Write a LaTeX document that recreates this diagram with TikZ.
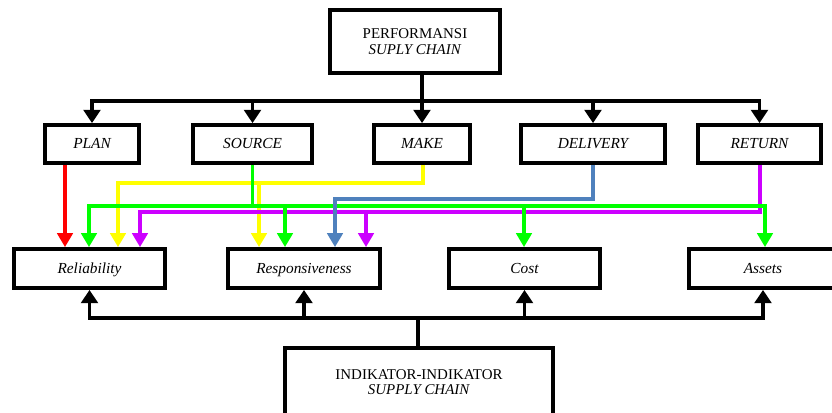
\documentclass[tikz,border=0pt]{standalone}
\usepackage{fontspec}
\setmainfont{Liberation Serif}
\usepackage{xcolor}
\usepackage{tikz}
\usetikzlibrary{
    calc,
    arrows.meta % For the filled triangle tips
}
\definecolor{pgreen}{RGB}{0,255,0}
\definecolor{pyellow}{RGB}{255,255,0}
\definecolor{pblue}{RGB}{79,129,189}
\definecolor{ppurple}{RGB}{204,0,255}
\tikzset{
    box/.style={draw, line width=2.8pt, inner sep=0pt, align=center,
        text height=7.5pt, text depth=0.5pt,
        font=\fontsize{11.5}{11.5}\selectfont\itshape},
    bigbox/.style={box, text height=, text depth=, font=\fontsize{11.2}{11.5}\selectfont},
    blk/.style={line width=2.8pt},
    blkarrow/.style={blk, -{Triangle[width=12.5pt,length=10pt]}},
    carrow/.style={line width=2.6pt, -{Triangle[width=11.5pt,length=10.5pt]}}
}

\begin{document}
\begin{tikzpicture}[x=0.75pt, y=-0.75pt]
        \useasboundingbox (0,0) rectangle (832,412);
        \clip (0,0) rectangle (832,412);
        \draw (415,41.5) node[bigbox, minimum width=127.5pt, minimum height=47.25pt](perf){PERFORMANSI\\\textit{SUPLY CHAIN}};
        \draw (92,144) node[box, minimum width=70.5pt, minimum height=28.5pt](plan){PLAN};
        \draw (252.5,144) node[box, minimum width=89.25pt, minimum height=28.5pt](source){SOURCE};
        \draw (422,144) node[box, minimum width=72pt, minimum height=28.5pt](make){MAKE};
        \draw (593,144) node[box, minimum width=108pt, minimum height=28.5pt](delivery){DELIVERY};
        \draw (759.5,144) node[box, minimum width=92.25pt, minimum height=28.5pt](return){RETURN};
        \draw (89.5,268.5) node[box, minimum width=113.25pt, minimum height=29.25pt](rel){Reliability};
        \draw (304,268.5) node[box, minimum width=114pt, minimum height=29.25pt](resp){Responsiveness};
        \draw (524.5,268.5) node[box, minimum width=113.25pt, minimum height=29.25pt](cost){Cost};
        \draw (763,268.5) node[box, minimum width=111pt, minimum height=29.25pt](assets){Assets};
        \draw (419,382) node[bigbox, minimum width=201pt, minimum height=51pt](ind){INDIKATOR-INDIKATOR\\\textit{SUPPLY CHAIN}};
        % black buses
        \coordinate (topbus) at (422,101);
        \coordinate (botbus) at (418,318);
        \draw[blk] (perf.south -| topbus) -- (topbus);
        \draw[blkarrow] (topbus) -| (plan.north);
        \draw[blkarrow] (topbus) -| (return.north);
        \foreach \n in {source,make,delivery}
            \draw[blkarrow] (\n.north |- topbus) -- (\n.north);
        \draw[blk] (ind.north -| botbus) -- (botbus);
        \draw[blkarrow] (botbus) -| (rel.south);
        \draw[blkarrow] (botbus) -| (assets.south);
        \foreach \n in {resp,cost}
            \draw[blkarrow] (\n.south |- botbus) -- (\n.south);
        % coloured links
        \coordinate (redx) at (65,0);
        \coordinate (yr) at (423,183);
        \coordinate (yl) at (118,183);
        \coordinate (ym) at (259,183);
        \coordinate (pr) at (760,212);
        \coordinate (pl) at (140,212);
        \coordinate (pm) at (366,212);
        \coordinate (gl) at (89,206);
        \coordinate (gr) at (765,206);
        \coordinate (gm) at (285,206);
        \coordinate (gc) at (524,206);
        \coordinate (bl) at (335,199);
        \draw[carrow, pyellow] (make.south -| yr) -- (yr) -- (yl) -- (rel.north -| yl);
        \draw[carrow, pyellow] (ym) -- (resp.north -| ym);
        \draw[carrow, ppurple] (return.south -| pr) -- (pr) -- (pl) -- (rel.north -| pl);
        \draw[carrow, ppurple] (pm) -- (resp.north -| pm);
        \draw[carrow, pgreen] (source.south) |- (gl) -- (rel.north -| gl);
        \draw[carrow, pgreen] (gl) -- (gr) -- (assets.north -| gr);
        \draw[carrow, pgreen] (gm) -- (resp.north -| gm);
        \draw[carrow, pgreen] (gc) -- (cost.north -| gc);
        \draw[carrow, pblue] (delivery.south) |- (bl) -- (resp.north -| bl);
        \draw[carrow, red] (plan.south -| redx) -- (rel.north -| redx);
\end{tikzpicture}
\end{document}
